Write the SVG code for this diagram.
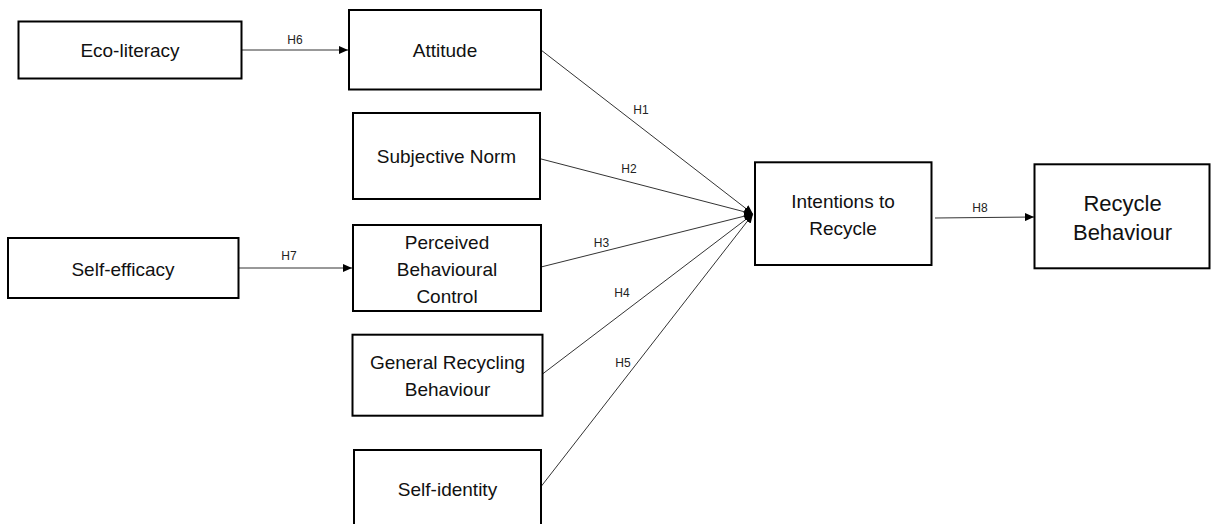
<svg xmlns="http://www.w3.org/2000/svg" width="1211" height="524" viewBox="0 0 1211 524">
<style>
.box{fill:#fff;stroke:#000;stroke-width:2}
.t{font-family:"Liberation Sans",Arial,sans-serif;font-size:19px;fill:#111;text-anchor:middle;dominant-baseline:central}
.big{font-size:22px}
.lbl{font-family:"Liberation Sans",Arial,sans-serif;font-size:12px;fill:#222;text-anchor:middle;dominant-baseline:central}
.c{stroke:#333;stroke-width:1;fill:none;marker-end:url(#ah)}
</style>
<defs>
<marker id="ah" markerUnits="userSpaceOnUse" markerWidth="9" markerHeight="8" refX="9" refY="4" orient="auto">
<path d="M0,0 L9,4 L0,8 z" fill="#000"/>
</marker>
</defs>
<rect width="1211" height="524" fill="#fff"/>
<g id="connectors">
<line class="c" x1="242" y1="50" x2="348" y2="50"/>
<line class="c" x1="239" y1="268" x2="352" y2="268"/>
<line class="c" x1="541" y1="50" x2="753" y2="214"/>
<line class="c" x1="540" y1="158.7" x2="753" y2="214"/>
<line class="c" x1="541" y1="267" x2="753" y2="214"/>
<line class="c" x1="542.5" y1="374" x2="753" y2="214"/>
<line class="c" x1="540.7" y1="487" x2="753" y2="214"/>
<line class="c" x1="935" y1="218" x2="1034" y2="217"/>
<text class="lbl" x="295" y="40">H6</text>
<text class="lbl" x="289" y="256">H7</text>
<text class="lbl" x="641" y="110">H1</text>
<text class="lbl" x="629" y="169">H2</text>
<text class="lbl" x="601.5" y="243">H3</text>
<text class="lbl" x="622" y="293">H4</text>
<text class="lbl" x="623" y="363">H5</text>
<text class="lbl" x="980" y="208">H8</text>
</g>
<g id="eco-literacy">
<rect class="box" x="18.5" y="21.5" width="223" height="57"/>
<text class="t" x="130" y="50">Eco-literacy</text>
</g>
<g id="attitude">
<rect class="box" x="349" y="10" width="192" height="79.5"/>
<text class="t" x="445" y="50">Attitude</text>
</g>
<g id="subjective-norm">
<rect class="box" x="353" y="113" width="187" height="86"/>
<text class="t" x="446.5" y="156.7">Subjective Norm</text>
</g>
<g id="self-efficacy">
<rect class="box" x="8" y="238" width="230.5" height="60"/>
<text class="t" x="123" y="269.3">Self-efficacy</text>
</g>
<g id="perceived-behavioural-control">
<rect class="box" x="353" y="225" width="188" height="86"/>
<text class="t" x="447" y="242.3">Perceived</text>
<text class="t" x="447" y="269.3">Behavioural</text>
<text class="t" x="447" y="296">Control</text>
</g>
<g id="general-recycling-behaviour">
<rect class="box" x="352.5" y="334.7" width="190" height="81"/>
<text class="t" x="447.5" y="362.7">General Recycling</text>
<text class="t" x="447.5" y="389">Behaviour</text>
</g>
<g id="self-identity">
<rect class="box" x="354" y="450" width="187" height="80"/>
<text class="t" x="447.5" y="489.3">Self-identity</text>
</g>
<g id="intentions-to-recycle">
<rect class="box" x="755" y="162.3" width="176.5" height="102.7"/>
<text class="t" x="843" y="201.7">Intentions to</text>
<text class="t" x="843" y="228.3">Recycle</text>
</g>
<g id="recycle-behaviour">
<rect class="box" x="1034.5" y="164.3" width="175" height="104"/>
<text class="t big" x="1122.5" y="203.3">Recycle</text>
<text class="t big" x="1122.5" y="232.7">Behaviour</text>
</g>
</svg>
